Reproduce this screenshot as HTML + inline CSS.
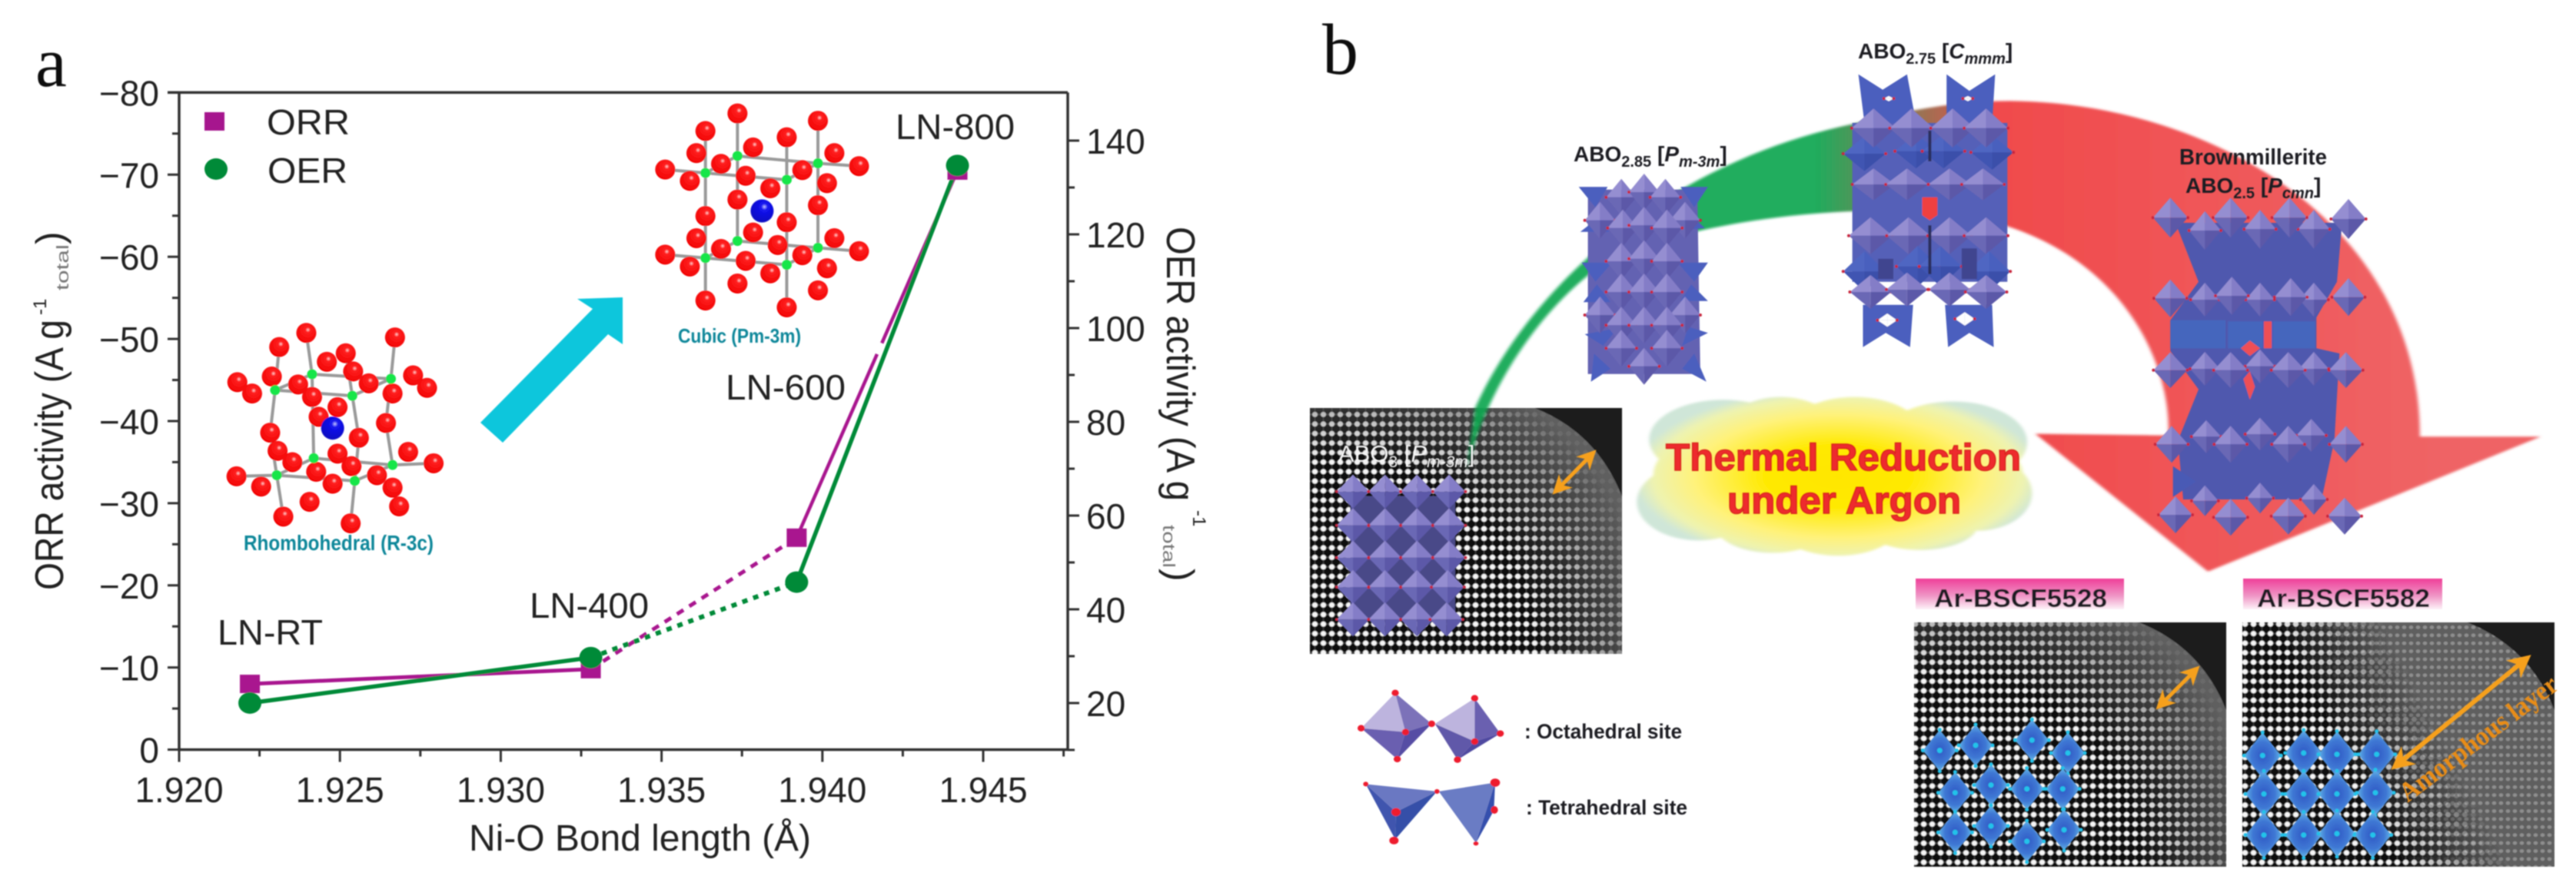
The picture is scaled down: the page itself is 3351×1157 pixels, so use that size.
<!DOCTYPE html>
<html lang="en">
<head>
<meta charset="utf-8">
<title>Ni-O bond length activity chart and thermal reduction schematic</title>
<style>
html,body{margin:0;padding:0;background:#fff;width:3351px;height:1157px;overflow:hidden}
svg{display:block;position:absolute;left:0;top:0}
text{font-family:"Liberation Sans",sans-serif}
.ax{fill:#222}
.st{font-weight:bold;fill:#1c1c22}
</style>
</head>
<body>
<svg id="fig" xmlns="http://www.w3.org/2000/svg" width="3351" height="1157" viewBox="0 0 3351 1157">
<defs>
  <filter id="soft" x="-5%" y="-5%" width="110%" height="110%"><feGaussianBlur stdDeviation="0.9"/></filter>
  <filter id="softer" x="-5%" y="-5%" width="110%" height="110%"><feGaussianBlur stdDeviation="2.2"/></filter>
  <radialGradient id="redAtom" cx="0.58" cy="0.35" r="0.7">
    <stop offset="0" stop-color="#ffd8d8"/><stop offset="0.17" stop-color="#ff2020"/><stop offset="1" stop-color="#f00000"/>
  </radialGradient>
  <radialGradient id="blueAtom" cx="0.6" cy="0.32" r="0.7">
    <stop offset="0" stop-color="#c8c8ff"/><stop offset="0.2" stop-color="#1414f0"/><stop offset="1" stop-color="#0606c0"/>
  </radialGradient>
  <radialGradient id="cyanD" cx="0.5" cy="0.5" r="0.55">
    <stop offset="0" stop-color="#2f58c4"/><stop offset="0.55" stop-color="#3f78d4"/><stop offset="1" stop-color="#6cc6ee"/>
  </radialGradient>
  <linearGradient id="arcGrad" gradientUnits="userSpaceOnUse" x1="640" y1="0" x2="1400" y2="0">
    <stop offset="0" stop-color="#0aa650"/><stop offset="0.29" stop-color="#ef3a3c"/><stop offset="1" stop-color="#ee5658"/>
  </linearGradient>
  <radialGradient id="cloudGrad" gradientUnits="userSpaceOnUse" cx="670" cy="840" r="250" gradientTransform="translate(670 840) scale(1 .62) translate(-670 -840)">
    <stop offset="0" stop-color="#ffe600"/><stop offset="0.35" stop-color="#ffe900"/><stop offset="0.7" stop-color="#fff27a"/><stop offset="0.9" stop-color="#eef3b0"/><stop offset="1" stop-color="#cfe6d8"/>
  </radialGradient>
  <linearGradient id="pinkGrad" x1="0" y1="0" x2="0" y2="1">
    <stop offset="0" stop-color="#ef3f98"/><stop offset="0.55" stop-color="#ef93c4"/><stop offset="1" stop-color="#fdf2f8"/>
  </linearGradient>
  <pattern id="dots" patternUnits="userSpaceOnUse" width="11" height="12.4">
    <rect width="11" height="12.4" fill="#0c0c0c"/>
    <rect x="0" y="5.2" width="11" height="2" fill="#444"/>
    <rect x="4.5" y="0" width="2" height="12.4" fill="#333"/>
    <ellipse cx="5.5" cy="6.2" rx="3.5" ry="3.4" fill="#f5f5f5"/>
  </pattern>
  <pattern id="fine" patternUnits="userSpaceOnUse" width="9" height="10.4">
    <rect width="9" height="10.4" fill="#5f5f5f"/>
    <ellipse cx="4.5" cy="5.2" rx="2.8" ry="2.4" fill="#8e8e8e"/>
  </pattern>
  <linearGradient id="amorphFade" gradientUnits="userSpaceOnUse" x1="3025" y1="945" x2="3140" y2="885">
    <stop offset="0" stop-color="#000"/><stop offset="1" stop-color="#fff"/>
  </linearGradient>
  <mask id="amorphMask" maskUnits="userSpaceOnUse" x="2917" y="810" width="406" height="318">
    <rect x="2917" y="810" width="406" height="318" fill="url(#amorphFade)"/>
  </mask>
  <marker id="hd" viewBox="0 0 10 10" refX="8" refY="5" markerWidth="5" markerHeight="5" orient="auto-start-reverse"><path d="M0 0L10 5L0 10L3 5Z" fill="#f6a01e"/></marker>
</defs>

<g id="panelA" filter="url(#soft)">
  <text x="46" y="112" style="font-family:'Liberation Serif',serif;font-size:92px;fill:#111">a</text>

  <g id="atomsR"></g>
  <text x="317" y="716" textLength="247" lengthAdjust="spacingAndGlyphs" style="font-size:28px;font-weight:bold;fill:#11879a">Rhombohedral (R-3c)</text>

  <g id="atomsC"></g>
  <text x="882" y="446" textLength="160" lengthAdjust="spacingAndGlyphs" style="font-size:26px;font-weight:bold;fill:#11879a">Cubic (Pm-3m)</text>

  <polygon fill="#08c6dc" points="625,550 654,576 791,435 810,448 810,387 751,389 771,402"/>

  <g id="plot"></g>

  <rect x="266" y="146" width="26" height="24" fill="#a6128e"/>
  <ellipse cx="281" cy="220" rx="15" ry="14" fill="#058a38"/>
  <text x="347" y="175" class="ax" textLength="108" lengthAdjust="spacingAndGlyphs" style="font-size:46px">ORR</text>
  <text x="348" y="238" class="ax" textLength="104" lengthAdjust="spacingAndGlyphs" style="font-size:46px">OER</text>

  <text x="283" y="839" class="ax" textLength="137" lengthAdjust="spacingAndGlyphs" style="font-size:46px">LN-RT</text>
  <text x="689" y="804" class="ax" textLength="155" lengthAdjust="spacingAndGlyphs" style="font-size:46px">LN-400</text>
  <text x="944" y="520" class="ax" textLength="156" lengthAdjust="spacingAndGlyphs" style="font-size:46px">LN-600</text>
  <text x="1165" y="181" class="ax" textLength="155" lengthAdjust="spacingAndGlyphs" style="font-size:46px">LN-800</text>

  <text x="610" y="1107" class="ax" textLength="445" lengthAdjust="spacingAndGlyphs" style="font-size:48px">Ni-O Bond length (Å)</text>

  <g>
    <text transform="translate(82 768) rotate(-90)" class="ax" textLength="352" lengthAdjust="spacingAndGlyphs" style="font-size:52px">ORR activity (A g</text>
    <text transform="translate(60 410) rotate(-90)" class="ax" style="font-size:24px">-1</text>
    <text transform="translate(89 378) rotate(-90)" fill="#777" textLength="60" lengthAdjust="spacingAndGlyphs" style="font-size:22px">total</text>
    <text transform="translate(82 318) rotate(-90)" class="ax" style="font-size:50px">)</text>
  </g>
  <g>
    <text transform="translate(1518 295) rotate(90)" class="ax" textLength="357" lengthAdjust="spacingAndGlyphs" style="font-size:52px">OER activity (A g</text>
    <text transform="translate(1552 664) rotate(90)" class="ax" style="font-size:24px">-1</text>
    <text transform="translate(1513 683) rotate(90)" fill="#777" textLength="56" lengthAdjust="spacingAndGlyphs" style="font-size:22px">total</text>
    <text transform="translate(1518 740) rotate(90)" class="ax" style="font-size:50px">)</text>
  </g>
</g>

<g id="panelB">
  <g filter="url(#soft)">
    <text x="1720" y="96" style="font-family:'Liberation Serif',serif;font-size:94px;fill:#111">b</text>
    <g id="haadf"></g>
  </g>

  <g transform="translate(1675 0) scale(1.0689 .738)">
    <path filter="url(#softer)" fill="url(#arcGrad)" fill-opacity="0.92"
      d="M228,720 C290,520 450,290 690,218 C760,192 820,178 880,178 C1130,182 1378,400 1378,770 L1525,770 L1120,1008 L910,765 L1072,768 C1075,620 1000,410 800,375 C650,360 500,395 400,450 C310,530 240,690 218,830 Z"/>
    <g fill="url(#cloudGrad)" filter="url(#softer)">
      <ellipse cx="670" cy="838" rx="225" ry="118"/>
      <ellipse cx="530" cy="775" rx="90" ry="70"/>
      <ellipse cx="600" cy="765" rx="70" ry="65"/>
      <ellipse cx="690" cy="770" rx="85" ry="70"/>
      <ellipse cx="810" cy="780" rx="90" ry="72"/>
      <ellipse cx="500" cy="885" rx="75" ry="68"/>
      <ellipse cx="590" cy="925" rx="70" ry="50"/>
      <ellipse cx="670" cy="925" rx="75" ry="55"/>
      <ellipse cx="770" cy="925" rx="70" ry="45"/>
      <ellipse cx="840" cy="870" rx="66" ry="66"/>
    </g>
  </g>
  <g id="polys" filter="url(#soft)"></g>

  <g filter="url(#soft)">
    <text x="2047" y="210" class="st" style="font-size:28px">ABO<tspan dy="7" style="font-size:20px">2.85</tspan><tspan dy="-7"> [</tspan><tspan font-style="italic">P</tspan><tspan dy="7" font-style="italic" style="font-size:20px">m-3m</tspan><tspan dy="-7">]</tspan></text>
    <text x="2417" y="76" class="st" style="font-size:28px">ABO<tspan dy="7" style="font-size:20px">2.75</tspan><tspan dy="-7"> [</tspan><tspan font-style="italic">C</tspan><tspan dy="7" font-style="italic" style="font-size:20px">mmm</tspan><tspan dy="-7">]</tspan></text>
    <text x="2835" y="214" class="st" textLength="192" lengthAdjust="spacingAndGlyphs" style="font-size:29px">Brownmillerite</text>
    <text x="2843" y="251" class="st" style="font-size:28px">ABO<tspan dy="7" style="font-size:20px">2.5</tspan><tspan dy="-7"> [</tspan><tspan font-style="italic">P</tspan><tspan dy="7" font-style="italic" style="font-size:20px">cmn</tspan><tspan dy="-7">]</tspan></text>
    <text x="1741" y="601" style="font-size:31px;fill:#f6f6f6">ABO<tspan dy="7" style="font-size:21px">3</tspan><tspan dy="-7"> [</tspan><tspan font-style="italic">P</tspan><tspan dy="7" font-style="italic" style="font-size:21px">m-3m</tspan><tspan dy="-7">]</tspan></text>

    <text x="2167" y="612" textLength="462" lengthAdjust="spacingAndGlyphs" style="font-size:49px;font-weight:bold;fill:#ee2a2e;stroke:#d9281c;stroke-width:1.5">Thermal Reduction</text>
    <text x="2247" y="668" textLength="304" lengthAdjust="spacingAndGlyphs" style="font-size:49px;font-weight:bold;fill:#ee2a2e;stroke:#d9281c;stroke-width:1.5">under Argon</text>

    <rect x="2492" y="753" width="271" height="40" fill="url(#pinkGrad)"/>
    <rect x="2918" y="753" width="259" height="40" fill="url(#pinkGrad)"/>
    <text x="2516" y="790" class="st" textLength="225" lengthAdjust="spacingAndGlyphs" style="font-size:33px">Ar-BSCF5528</text>
    <text x="2936" y="790" class="st" textLength="225" lengthAdjust="spacingAndGlyphs" style="font-size:33px">Ar-BSCF5582</text>

    <text x="1983" y="961" class="st" textLength="205" lengthAdjust="spacingAndGlyphs" style="font-size:27px">: Octahedral site</text>
    <text x="1985" y="1060" class="st" textLength="210" lengthAdjust="spacingAndGlyphs" style="font-size:27px">: Tetrahedral site</text>

    <g stroke="#f6a01e" fill="none" stroke-width="5">
      <line x1="2023" y1="640" x2="2073" y2="589" marker-start="url(#hd)" marker-end="url(#hd)"/>
      <line x1="2808" y1="920" x2="2858" y2="870" marker-start="url(#hd)" marker-end="url(#hd)"/>
      <line x1="3115" y1="998" x2="3288" y2="856" stroke-width="6" marker-start="url(#hd)" marker-end="url(#hd)"/>
    </g>
    <text transform="translate(3132 1045) rotate(-37)" textLength="248" lengthAdjust="spacingAndGlyphs" style="font-family:'Liberation Serif',serif;font-size:36px;font-weight:bold;fill:#e88c14">Amorphous layer</text>

    <g transform="translate(1600 500) scale(.3333 .3827)">
      <g>
        <polygon points="645,1050 512,1170 685,1183" fill="#bdb4de"/><polygon points="645,1050 787,1155 685,1183" fill="#7b72b9"/>
        <polygon points="512,1170 685,1183 653,1275" fill="#6a5fb0"/><polygon points="685,1183 787,1155 653,1275" fill="#574ea4"/>
        <polygon points="955,1068 800,1155 955,1215" fill="#bdb4de"/><polygon points="955,1068 1055,1188 955,1215" fill="#6a60b0"/>
        <polygon points="800,1155 955,1215 888,1277" fill="#6158a9"/><polygon points="955,1215 1055,1188 888,1277" fill="#4f48a0"/>
      </g>
      <g>
        <polygon points="530,1360 808,1385 648,1455" fill="#6a78c2"/><polygon points="530,1360 648,1455 645,1548" fill="#3f54ae"/>
        <polygon points="648,1455 808,1385 645,1548" fill="#3550a8"/>
        <polygon points="815,1385 1035,1355 960,1560" fill="#6a7bc4"/><polygon points="1035,1355 1030,1450 960,1560" fill="#3650ad"/>
      </g>
      <g fill="#ee1c2e">
        <ellipse cx="645" cy="1050" rx="14" ry="11"/><ellipse cx="955" cy="1068" rx="14" ry="11"/><ellipse cx="512" cy="1170" rx="14" ry="11"/>
        <ellipse cx="787" cy="1155" rx="14" ry="11"/><ellipse cx="685" cy="1183" rx="14" ry="11"/><ellipse cx="955" cy="1215" rx="14" ry="11"/>
        <ellipse cx="1055" cy="1188" rx="14" ry="11"/><ellipse cx="653" cy="1275" rx="14" ry="11"/><ellipse cx="888" cy="1277" rx="14" ry="11"/>
        <ellipse cx="530" cy="1360" rx="10" ry="8"/><ellipse cx="808" cy="1385" rx="10" ry="8"/><ellipse cx="1035" cy="1355" rx="19" ry="14"/>
        <ellipse cx="648" cy="1455" rx="18" ry="14"/><ellipse cx="1032" cy="1448" rx="14" ry="13"/><ellipse cx="640" cy="1552" rx="18" ry="13"/><ellipse cx="960" cy="1562" rx="10" ry="7"/>
      </g>
    </g>
  </g>
</g>

<script>
// ---- Chart data (panel a) ----
var bondLengths = [1.9222, 1.9328, 1.9392, 1.9442];
var orrActivity = [-8, -9.8, -25.8, -70.5];
var oerActivity = [20, 29.7, 45.8, 134.7];
var xTickLabels = ['1.920', '1.925', '1.930', '1.935', '1.940', '1.945'];
var xMinorTicks = [1.9225, 1.9275, 1.9325, 1.9375, 1.9425, 1.9475];
var leftTickLabels = ['0', '−10', '−20', '−30', '−40', '−50', '−60', '−70', '−80'];
var leftTickValues = [0, -10, -20, -30, -40, -50, -60, -70, -80];
var leftMinorTicks = [-5, -15, -25, -35, -45, -55, -65, -75];
var rightTickValues = [20, 40, 60, 80, 100, 120, 140];
var rightMinorTicks = [10, 30, 50, 70, 90, 110, 130];

// ---- Axis functions ----
function xAxis(v) { return 233 + (v - 1.92) * 41840; }
function yLeft(v) { return 975.6 + v * 10.69; }
function yRight(v) { return 915 - (v - 20) * 6.1; }

var NS = 'http://www.w3.org/2000/svg';
function mk(tag, parent) {
  var el = document.createElementNS(NS, tag);
  parent.appendChild(el);
  return el;
}
var plot = document.getElementById('plot');

function frameLine(x1, y1, x2, y2, w) {
  var el = mk('line', plot);
  
  
  el.setAttribute('x1', x1); el.setAttribute('y1', y1);
  el.setAttribute('x2', x2); el.setAttribute('y2', y2);
  el.setAttribute('stroke', '#333');
  el.setAttribute('stroke-width', w);
}
var L = xAxis(1.92), R = 1389, T = yLeft(-80), B = yLeft(0);
frameLine(L, T, L, B, 3.5);
frameLine(L - 15, T, R, T, 3.5);
frameLine(L, B, R, B, 3.5);
frameLine(R, T, R, B, 3.5);

function tick(x1, y1, x2, y2) {
  var el = mk('line', plot);
  
  
  el.setAttribute('x1', x1); el.setAttribute('y1', y1);
  el.setAttribute('x2', x2); el.setAttribute('y2', y2);
  el.setAttribute('stroke', '#333');
  el.setAttribute('stroke-width', 3);
}
function tickLabel(x, y, s, anchor) {
  var el = mk('text', plot);
  
  
  el.setAttribute('x', x); el.setAttribute('y', y);
  el.setAttribute('text-anchor', anchor);
  el.setAttribute('class', 'ax');
  el.setAttribute('style', 'font-size:46px');
  el.textContent = s;
}
xTickLabels.forEach(function (s) {
  var x = xAxis(parseFloat(s));
  tick(x, B, x, B + 16);
  tickLabel(x, 1044, s, 'middle');
});
xMinorTicks.forEach(function (v) { tick(xAxis(v), B, xAxis(v), B + 9); });
leftTickValues.forEach(function (v, i) {
  var y = yLeft(v);
  tick(L - 15, y, L, y);
  tickLabel(207, y + 17, leftTickLabels[i], 'end');
});
leftMinorTicks.forEach(function (v) { tick(L - 9, yLeft(v), L, yLeft(v)); });
rightTickValues.forEach(function (v) {
  var y = yRight(v);
  tick(R, y, R + 15, y);
  tickLabel(1413, y + 17, String(v), 'start');
});
rightMinorTicks.forEach(function (v) { tick(R, yRight(v), R + 9, yRight(v)); });

function seg(series, color, x1, y1, x2, y2, dash, w) {
  var el = mk('line', plot);
  
  
  el.setAttribute('x1', x1); el.setAttribute('y1', y1);
  el.setAttribute('x2', x2); el.setAttribute('y2', y2);
  el.setAttribute('stroke', color);
  el.setAttribute('stroke-width', w);
  if (dash) { el.setAttribute('stroke-dasharray', dash); }
}
var MAG = '#a9178f', GRN = '#058a38';
function orrX(i) { return xAxis(bondLengths[i]); }
function orrY(i) { return yLeft(orrActivity[i]); }
seg('orr', MAG, orrX(0), orrY(0), orrX(1), orrY(1), null, 5);
seg('orr', MAG, orrX(1), orrY(1), orrX(2), orrY(2), '10 9', 5);
// the upper ORR leg has a small break in the reference line
var gapA = 0.50, gapB = 0.53;
seg('orr', MAG, orrX(2), orrY(2), orrX(2) + (orrX(3) - orrX(2)) * gapA, orrY(2) + (orrY(3) - orrY(2)) * gapA, null, 4.5);
seg('orr', MAG, orrX(2) + (orrX(3) - orrX(2)) * gapB, orrY(2) + (orrY(3) - orrY(2)) * gapB, orrX(3), orrY(3), null, 4.5);
var oerDash = [null, '7 8', null];
for (var j = 0; j < 3; j++) {
  seg('oer', GRN, xAxis(bondLengths[j]), yRight(oerActivity[j]), xAxis(bondLengths[j + 1]), yRight(oerActivity[j + 1]), oerDash[j], j === 1 ? 6 : 5.5);
}
bondLengths.forEach(function (b, k) {
  var el = mk('rect', plot);
  
  
  el.setAttribute('x', xAxis(b) - 13);
  el.setAttribute('y', yLeft(orrActivity[k]) - 12);
  el.setAttribute('width', 26);
  el.setAttribute('height', 24);
  el.setAttribute('fill', MAG);
});
bondLengths.forEach(function (b, k) {
  var el = mk('ellipse', plot);
  
  
  el.setAttribute('cx', xAxis(b));
  el.setAttribute('cy', yRight(oerActivity[k]));
  el.setAttribute('rx', 15);
  el.setAttribute('ry', 14);
  el.setAttribute('fill', GRN);
});

// ---- Ball-and-stick insets (illustration, not data) ----
function ax(z) { return z * 1.0683; }
function ay(z) { return z * 0.738; }
function bond(g, a, b) {
  var el = mk('line', g);
  
  
  el.setAttribute('x1', ax(a[0])); el.setAttribute('y1', ay(a[1]));
  el.setAttribute('x2', ax(b[0])); el.setAttribute('y2', ay(b[1]));
  el.setAttribute('stroke', '#9a9a9a');
  el.setAttribute('stroke-width', 4);
}
function atom(g, p, r, fill) {
  var el = mk('circle', g);
  
  
  el.setAttribute('cx', ax(p[0])); el.setAttribute('cy', ay(p[1]));
  el.setAttribute('r', r);
  el.setAttribute('fill', fill);
}
function structure(id, bonds, nodes, reds, blue) {
  var g = document.getElementById(id);
  bonds.forEach(function (b) { bond(g, b[0], b[1]); });
  reds.forEach(function (p) { atom(g, p, 13, 'url(#redAtom)'); });
  nodes.forEach(function (p) { atom(g, p, 6.5, '#19e64a'); });
  atom(g, blue, 15, 'url(#blueAtom)');
}
var rN = [[335,688],[380,660],[476,668],[429,698],[382,808],[478,820],[337,838],[432,848]];
structure('atomsR',
  [[rN[0],rN[1]],[rN[1],rN[2]],[rN[2],rN[3]],[rN[3],rN[0]],[rN[6],rN[4]],[rN[4],rN[5]],[rN[5],rN[7]],[rN[7],rN[6]],
   [rN[0],[329,763]],[[329,763],rN[6]],[rN[1],rN[4]],[rN[2],[470,746]],[[470,746],rN[5]],[rN[3],[437,772]],[[437,772],rN[7]],
   [rN[1],[373,587]],[rN[2],[481,595]],[rN[0],[340,612]],[rN[3],[421,623]],[rN[6],[345,911]],[rN[7],[427,923]],[rN[6],[288,840]],[rN[5],[528,817]]],
  rN,
  [[373,587],[340,612],[481,595],[398,638],[421,623],[430,655],[449,676],[503,662],[520,684],[289,674],[307,694],[331,664],[363,678],[478,694],[380,700],[411,718],[388,735],[470,746],[329,763],[437,772],[338,795],[356,815],[411,800],[497,797],[528,817],[288,840],[318,858],[385,832],[428,822],[459,838],[405,853],[478,860],[377,885],[486,893],[345,911],[427,923]],
  [405,755]);
var cN = [[859,305],[898,275],[996,288],[958,317],[859,455],[898,425],[996,437],[958,467]];
structure('atomsC',
  [[cN[0],cN[1]],[cN[1],cN[2]],[cN[2],cN[3]],[cN[3],cN[0]],[cN[4],cN[5]],[cN[5],cN[6]],[cN[6],cN[7]],[cN[7],cN[4]],
   [cN[0],cN[4]],[cN[1],cN[5]],[cN[2],cN[6]],[cN[3],cN[7]],[[859,231],cN[0]],[[898,200],cN[1]],[[996,213],cN[2]],[[958,242],cN[3]],
   [cN[4],[859,530]],[cN[7],[958,542]],[[810,299],cN[0]],[cN[2],[1046,293]],[[810,449],cN[4]],[cN[6],[1046,443]]],
  cN,
  [[898,200],[996,213],[859,231],[958,242],[848,270],[917,260],[1016,270],[878,289],[977,300],[810,299],[1046,293],[840,319],[908,310],[1007,323],[938,332],[898,352],[996,362],[859,381],[958,392],[848,420],[917,410],[1016,420],[878,439],[977,450],[947,432],[810,449],[1046,443],[840,470],[908,460],[1007,473],[938,482],[898,500],[996,512],[859,530],[958,542]],
  [928,372]);

// ---- Microscopy images ----
function haadf(x, y, w, h, name, amorph) {
  var host = document.getElementById('haadf');
  var defs = document.querySelector('defs');
  var id = 'fade' + x;
  var grad = mk('radialGradient', defs);
  grad.setAttribute('id', id);
  grad.setAttribute('gradientUnits', 'userSpaceOnUse');
  grad.setAttribute('cx', x + w * 0.1);
  grad.setAttribute('cy', y + h);
  grad.setAttribute('r', 415);
  var s1 = mk('stop', grad); s1.setAttribute('offset', 0.6); s1.setAttribute('stop-color', '#626262'); s1.setAttribute('stop-opacity', 0);
  var s2 = mk('stop', grad); s2.setAttribute('offset', 0.98); s2.setAttribute('stop-color', '#626262'); s2.setAttribute('stop-opacity', 0.95);
  var r = mk('rect', host);
  
  
  r.setAttribute('x', x); r.setAttribute('y', y); r.setAttribute('width', w); r.setAttribute('height', h);
  r.setAttribute('fill', 'url(#dots)');
  var f = mk('rect', host);
  
  
  f.setAttribute('x', x); f.setAttribute('y', y); f.setAttribute('width', w); f.setAttribute('height', h);
  if (amorph) {
    f.setAttribute('fill', 'url(#fine)');
    f.setAttribute('mask', 'url(#amorphMask)');
  } else {
    f.setAttribute('fill', 'url(#' + id + ')');
  }
  var c = mk('path', host);
  
  
  c.setAttribute('d', 'M' + (x + w * 0.72) + ' ' + y + ' Q' + (x + w * 0.92) + ' ' + (y + h * 0.1) + ' ' + (x + w) + ' ' + (y + h * 0.36) + ' L' + (x + w) + ' ' + y + ' Z');
  c.setAttribute('fill', '#1d1d1d');
}
haadf(1704, 531, 406, 320, 'haadf-image-abo3', false);
haadf(2490, 810, 406, 318, 'haadf-image-bscf5528', false);
haadf(2917, 810, 406, 318, 'haadf-image-bscf5582', true);

// ---- Polyhedra (illustration) ----
var polys = document.getElementById('polys');
var PURPLE = ['#958ed1', '#847dc7', '#6b67b5', '#5c58a8'];
var BLUE = ['#5066c2', '#4a60be', '#3f55b2', '#3a4faa'];
function mapper(ox, oy, sx, sy) {
  return function (p) { return [ox + p[0] / sx, oy + p[1] / sy]; };
}
function poly(points, fill) {
  var el = mk('polygon', polys);
  
  
  el.setAttribute('points', points.map(function (p) { return p[0].toFixed(1) + ',' + p[1].toFixed(1); }).join(' '));
  el.setAttribute('fill', fill);
}
function dot(p, r, fill) {
  var el = mk('circle', polys);
  
  
  el.setAttribute('cx', p[0].toFixed(1));
  el.setAttribute('cy', p[1].toFixed(1));
  el.setAttribute('r', r);
  el.setAttribute('fill', fill);
}
function dia(m, sx, sy, list, hw, hh, c) {
  list.forEach(function (z) {
    var o = m(z), w = hw / sx, h = hh / sy, cx = o[0], cy = o[1];
    poly([[cx, cy - h], [cx - w, cy], [cx, cy]], c[0]);
    poly([[cx, cy - h], [cx + w, cy], [cx, cy]], c[1]);
    poly([[cx - w, cy], [cx, cy + h], [cx, cy]], c[2]);
    poly([[cx + w, cy], [cx, cy + h], [cx, cy]], c[3]);
    dot([cx - w, cy], 2, '#c8283c');
    dot([cx + w, cy], 2, '#c8283c');
  });
}
function shapes(m, list, fill) {
  list.forEach(function (s) { poly(s.map(m), fill); });
}
var z2 = mapper(2030, 80, 2.529, 3);
var z3 = mapper(2780, 240, 3, 3);

// ABO2.85
shapes(z2, [[[90,500],[450,500],[460,1220],[90,1220]]], '#6462b2');
shapes(z2, [
  [[60,490],[155,490],[115,570]], [[485,490],[395,490],[440,570]],
  [[65,665],[135,600],[160,665]], [[475,650],[420,590],[385,660]],
  [[70,785],[170,785],[115,860]], [[485,785],[385,785],[440,860]],
  [[75,940],[120,870],[165,940]], [[485,935],[430,870],[395,935]],
  [[80,1065],[190,1040],[140,1110]], [[485,1060],[420,1035],[400,1110]],
  [[110,1140],[165,1200],[100,1250]], [[440,1140],[480,1250],[400,1200]]
], '#4c5fbe');
dia(z2, 2.529, 3, [[200,530],[275,510],[345,530],[130,620],[410,620],[205,650],[275,640],[350,650],[200,780],[275,770],[350,780],[200,900],[275,900],[350,900],[130,990],[410,990],[200,1030],[275,1030],[350,1030],[200,1120],[350,1120],[275,1190]], 50, 72, PURPLE);

// ABO2.75
shapes(z2, [[[960,240],[1470,240],[1470,860],[960,860]]], '#5560b8');
shapes(z2, [
  [[980,50],[1060,110],[1140,50],[1170,240],[1000,240]],
  [[1270,50],[1345,115],[1430,50],[1420,240],[1270,240]],
  [[995,950],[1160,950],[1150,1115],[1070,1060],[995,1115]],
  [[1265,950],[1420,950],[1425,1115],[1345,1060],[1275,1115]]
], '#4c5fbe');
dia(z2, 2.529, 3, [[1075,1010],[1330,1005]], 32, 26, ['#fff', '#fff', '#fff', '#fff']);
dia(z2, 2.529, 3, [[1080,145],[1340,145]], 16, 10, ['#fff', '#fff', '#fff', '#fff']);
shapes(z2, [[[1190,530],[1240,530],[1240,600],[1215,620],[1190,600]]], '#ef4040');
dia(z2, 2.529, 3, [[1000,360],[1170,350],[1260,350],[1420,355]], 70, 68, BLUE);
dia(z2, 2.529, 3, [[1030,260],[1155,260],[1290,260],[1400,260]], 72, 76, PURPLE);
dia(z2, 2.529, 3, [[1030,480],[1140,480],[1280,480],[1390,480]], 70, 62, PURPLE);
dia(z2, 2.529, 3, [[1020,680],[1145,680],[1280,680],[1400,680]], 72, 72, PURPLE);
dia(z2, 2.529, 3, [[1000,820],[1175,800],[1250,800],[1410,820]], 70, 80, BLUE);
dia(z2, 2.529, 3, [[1020,900],[1140,890],[1280,890],[1400,900]], 68, 66, PURPLE);
shapes(z2, [[[1045,770],[1095,770],[1095,850],[1045,850]], [[1320,730],[1370,730],[1370,850],[1320,850]]], '#40458f');
shapes(z2, [[[1210,640],[1220,640],[1220,830],[1210,830]], [[1210,270],[1220,270],[1220,390],[1210,390]]], '#2a2d5c');

// Brownmillerite
shapes(z3, [[[150,150],[800,150],[780,380],[700,520],[700,640],[790,660],[770,1000],[720,1230],[180,1230],[160,1000],[240,800],[130,650],[130,530],[240,380]]], '#5058ae');
shapes(z3, [[[130,530],[345,530],[345,640],[130,640]], [[355,535],[490,535],[490,640],[355,640]], [[530,535],[695,535],[695,640],[530,640]]], '#4566bd');
shapes(z3, [[[405,640],[440,610],[480,640],[440,670]], [[495,535],[525,535],[525,640],[495,640]], [[415,760],[440,730],[460,790],[440,840]]], '#ee5055');
shapes(z3, [[[140,1100],[230,1160],[140,1220]]], '#4a5ab5');
dia(z3, 3, 3, [[265,180],[480,175],[690,175]], 62, 76, PURPLE);
dia(z3, 3, 3, [[265,450],[480,450],[690,450]], 56, 66, PURPLE);
dia(z3, 3, 3, [[265,720],[480,710],[690,720]], 58, 66, PURPLE);
dia(z3, 3, 3, [[270,985],[480,975],[680,980]], 58, 64, PURPLE);
dia(z3, 3, 3, [[265,1235],[480,1225],[690,1230]], 52, 60, PURPLE);
dia(z3, 3, 3, [[130,130],[365,130],[595,130],[825,135]], 68, 78, PURPLE);
dia(z3, 3, 3, [[130,445],[370,435],[600,440],[825,440]], 64, 74, PURPLE);
dia(z3, 3, 3, [[130,725],[365,725],[590,725],[815,725]], 66, 70, PURPLE);
dia(z3, 3, 3, [[135,1015],[365,1015],[590,1015],[815,1015]], 64, 72, PURPLE);
dia(z3, 3, 3, [[150,1290],[365,1300],[590,1295],[810,1295]], 66, 72, PURPLE);

// ABO3 inset on first micrograph
var z4 = mapper(1600, 500, 3, 2.613);
shapes(z4, [[[470,380],[880,380],[880,800],[470,800]]], '#4a4888');
dia(z4, 3, 2.613, [[480,365],[605,365],[730,365],[855,365],[480,480],[605,480],[730,480],[855,480],[480,590],[605,590],[730,590],[855,590],[480,690],[605,690],[730,690],[850,690],[480,800],[605,800],[730,800],[845,800]], 64, 58, PURPLE);

// BSCF insets
function cyanDiamonds(m, list, hw, hh) {
  list.forEach(function (z) {
    var o = m(z), cx = o[0], cy = o[1];
    poly([[cx, cy - hh], [cx - hw, cy], [cx, cy + hh], [cx + hw, cy]], 'url(#cyanD)');
    dot([cx, cy], 3.5, '#22c2ea');
    dot([cx, cy - hh], 2.5, '#22c2ea');
    dot([cx, cy + hh], 2.5, '#22c2ea');
    dot([cx - hw, cy], 2.5, '#22c2ea');
    dot([cx + hw, cy], 2.5, '#22c2ea');
  });
}
cyanDiamonds(mapper(2480, 920, 3, 3), [[130,170],[270,150],[490,130],[630,180],[190,335],[330,305],[470,320],[610,320],[190,490],[330,465],[470,525],[615,480]], 22, 27);
cyanDiamonds(mapper(2900, 740, 3, 3), [[130,730],[290,720],[420,725],[575,725],[135,880],[290,880],[420,880],[570,875],[135,1040],[290,1040],[420,1035],[560,1040]], 24, 30);
</script>
</svg>
</body>
</html>
